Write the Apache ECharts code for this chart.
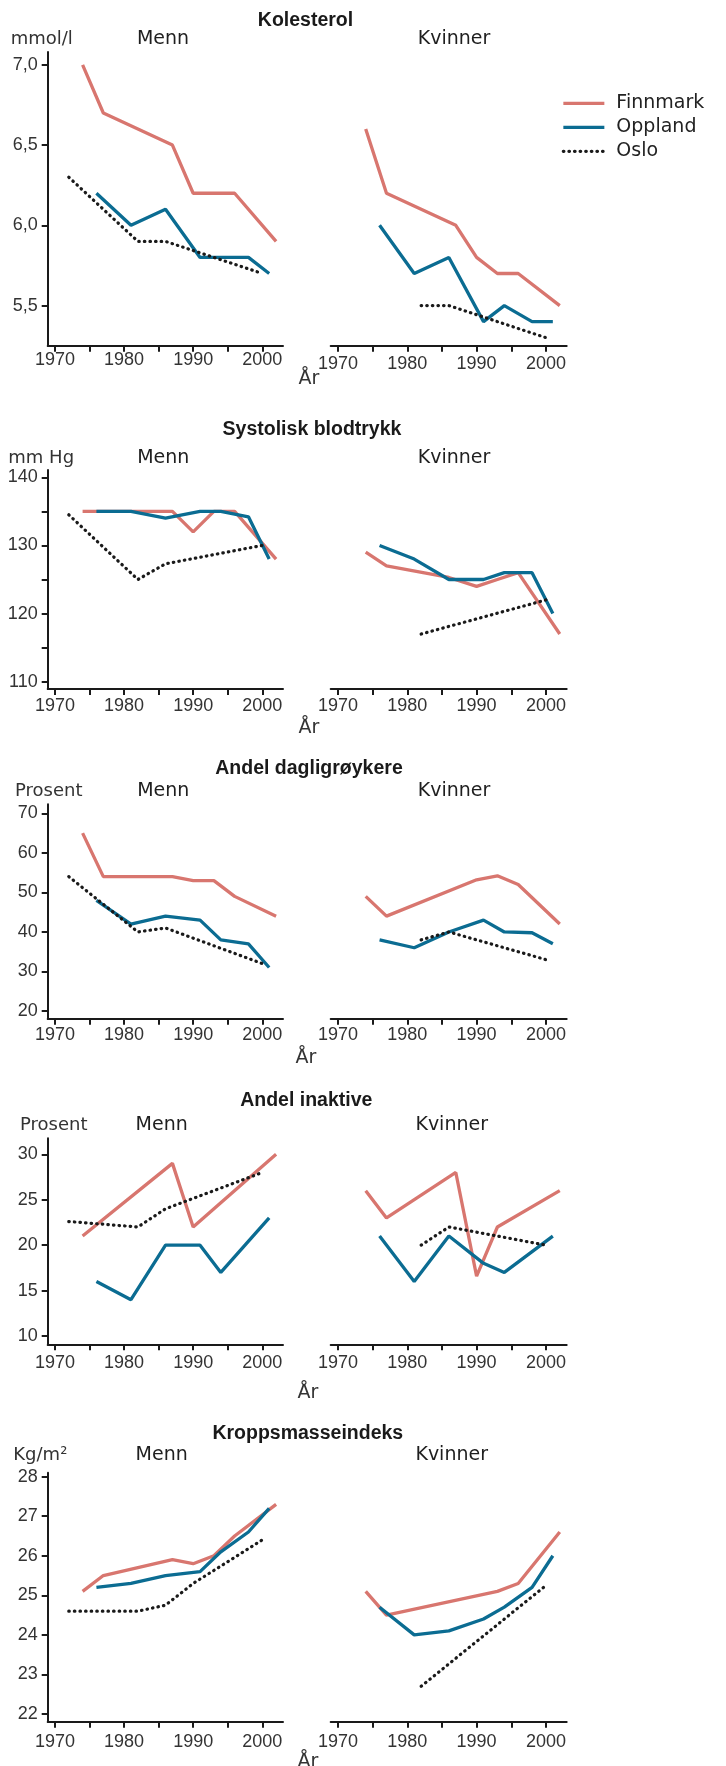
<!DOCTYPE html>
<html><head><meta charset="utf-8">
<script src="https://cdn.jsdelivr.net/npm/echarts@6/dist/echarts.min.js"></script>
<style>html,body{margin:0;padding:0;background:#fff}#c{width:726px;height:1766px}</style>
</head><body><div id="c"></div>
<script>
// ---------- DATA ----------
const seriesNames = ['Finnmark', 'Oppland', 'Oslo'];
const panelTitles = ['Kolesterol', 'Systolisk blodtrykk', 'Andel dagligrøykere', 'Andel inaktive', 'Kroppsmasseindeks'];
const unitLabels = ['mmol/l', 'mm Hg', 'Prosent', 'Prosent', 'Kg/m²'];
const sexLabels = ['Menn', 'Kvinner'];
const axisTitle = 'År';
const xTickYears = [1970, 1975, 1980, 1985, 1990, 1995, 2000];
const xLabelYears = [1970, 1980, 1990, 2000];

// Kolesterol (mmol/l)
const kolMennFinnmark = [[1974, 7.0], [1977, 6.7], [1987, 6.5], [1990, 6.2], [1996, 6.2], [2002, 5.9]];
const kolMennOppland = [[1976, 6.2], [1981, 6.0], [1986, 6.1], [1991, 5.8], [1998, 5.8], [2001, 5.7]];
const kolMennOslo = [[1972, 6.3], [1982, 5.9], [1986, 5.9], [2000, 5.7]];
const kolKvinnerFinnmark = [[1974, 6.6], [1977, 6.2], [1987, 6.0], [1990, 5.8], [1993, 5.7], [1996, 5.7], [2002, 5.5]];
const kolKvinnerOppland = [[1976, 6.0], [1981, 5.7], [1986, 5.8], [1991, 5.4], [1994, 5.5], [1998, 5.4], [2001, 5.4]];
const kolKvinnerOslo = [[1982, 5.5], [1986, 5.5], [2000, 5.3]];
const kolTicks = [5.5, 6.0, 6.5, 7.0];

// Systolisk blodtrykk (mm Hg)
const bpMennFinnmark = [[1974, 135], [1987, 135], [1990, 132], [1993, 135], [1996, 135], [2002, 128]];
const bpMennOppland = [[1976, 135], [1981, 135], [1986, 134], [1991, 135], [1994, 135], [1998, 134.2], [2001, 128]];
const bpMennOslo = [[1972, 134.5], [1982, 125], [1986, 127.3], [2000, 130]];
const bpKvinnerFinnmark = [[1974, 129], [1977, 127], [1986, 125.3], [1990, 124], [1993, 125], [1996, 126], [2002, 117]];
const bpKvinnerOppland = [[1976, 130], [1981, 128], [1986, 125], [1991, 125], [1994, 126], [1998, 126], [2001, 120]];
const bpKvinnerOslo = [[1982, 117], [2000, 122]];
const bpTicks = [110, 115, 120, 125, 130, 135, 140];
const bpLabels = [110, 120, 130, 140];

// Andel dagligrøykere (prosent)
const smokeMennFinnmark = [[1974, 65], [1977, 54], [1987, 54], [1990, 53], [1993, 53], [1996, 49], [2002, 44]];
const smokeMennOppland = [[1976, 48], [1981, 42], [1986, 44], [1991, 43], [1994, 38], [1998, 37], [2001, 31]];
const smokeMennOslo = [[1972, 54], [1982, 40], [1986, 41], [2000, 32]];
const smokeKvinnerFinnmark = [[1974, 49], [1977, 44], [1990, 53.2], [1993, 54.2], [1996, 52], [2002, 42]];
const smokeKvinnerOppland = [[1976, 38], [1981, 36], [1986, 40], [1991, 43], [1994, 40], [1998, 39.8], [2001, 37]];
const smokeKvinnerOslo = [[1982, 38], [1986, 40], [2000, 33]];
const smokeTicks = [20, 30, 40, 50, 60, 70];

// Andel inaktive (prosent)
const inactMennFinnmark = [[1974, 21], [1987, 29], [1990, 22], [2002, 30]];
const inactMennOppland = [[1976, 16], [1981, 14], [1986, 20], [1991, 20], [1994, 17], [2001, 23]];
const inactMennOslo = [[1972, 22.6], [1982, 22], [1986, 24], [2000, 28]];
const inactKvinnerFinnmark = [[1974, 26], [1977, 23], [1987, 28], [1990, 16.6], [1993, 22], [2002, 26]];
const inactKvinnerOppland = [[1976, 21], [1981, 16], [1986, 21], [1991, 18], [1994, 17], [2001, 21]];
const inactKvinnerOslo = [[1982, 20], [1986, 22], [2000, 20]];
const inactTicks = [10, 15, 20, 25, 30];

// Kroppsmasseindeks (kg/m2)
const bmiMennFinnmark = [[1974, 25.1], [1977, 25.5], [1987, 25.9], [1990, 25.8], [1993, 26.0], [1996, 26.5], [2002, 27.3]];
const bmiMennOppland = [[1976, 25.2], [1981, 25.3], [1986, 25.5], [1991, 25.6], [1994, 26.1], [1998, 26.6], [2001, 27.2]];
const bmiMennOslo = [[1972, 24.6], [1982, 24.6], [1986, 24.75], [1990, 25.3], [2000, 26.4]];
const bmiKvinnerFinnmark = [[1974, 25.1], [1977, 24.5], [1993, 25.1], [1996, 25.3], [2002, 26.6]];
const bmiKvinnerOppland = [[1976, 24.7], [1981, 24.0], [1986, 24.1], [1991, 24.4], [1994, 24.7], [1998, 25.2], [2001, 26.0]];
const bmiKvinnerOslo = [[1982, 22.7], [2000, 25.25]];
const bmiTicks = [22, 23, 24, 25, 26, 27, 28];

// ---------- LAYOUT / STYLE ----------
const colors = ['#d8766f', '#0b6c92', '#1a1a1a'];
const xRange = [1968.95, 2003];
const gridX = [{left: 47.7, width: 235.3}, {left: 330.7, width: 236}];
const panels = [
  {men: [kolMennFinnmark, kolMennOppland, kolMennOslo], women: [kolKvinnerFinnmark, kolKvinnerOppland, kolKvinnerOslo],
   yTicks: kolTicks, yLabels: kolTicks, fmt: v => v.toFixed(1).replace('.', ','),
   top: 52, bottom: 345.7, ymin: 5.25, ymax: 7.08, titleX: 305.5, titleY: 20.7, labY: 39, unitX: 10.7, menX: 163, kvX: 454,
   xm: [5, 9], arX: 309, arY: 379},
  {men: [bpMennFinnmark, bpMennOppland, bpMennOslo], women: [bpKvinnerFinnmark, bpKvinnerOppland, bpKvinnerOslo],
   yTicks: bpTicks, yLabels: bpLabels, fmt: v => String(v),
   top: 470, bottom: 689, ymin: 108.93, ymax: 141.07, titleX: 312, titleY: 429.3, labY: 458.5, unitX: 8.3, menX: 163.3, kvX: 454,
   xm: [8.5, 8.5], arX: 309, arY: 728},
  {men: [smokeMennFinnmark, smokeMennOppland, smokeMennOslo], women: [smokeKvinnerFinnmark, smokeKvinnerOppland, smokeKvinnerOslo],
   yTicks: smokeTicks, yLabels: smokeTicks, fmt: v => String(v),
   top: 804.3, bottom: 1018.7, ymin: 18.05, ymax: 72.3, titleX: 309, titleY: 768.3, labY: 791.3, unitX: 15, menX: 163.3, kvX: 454,
   xm: [7.5, 7.5], arX: 306, arY: 1058.3},
  {men: [inactMennFinnmark, inactMennOppland, inactMennOslo], women: [inactKvinnerFinnmark, inactKvinnerOppland, inactKvinnerOslo],
   yTicks: inactTicks, yLabels: inactTicks, fmt: v => String(v),
   top: 1138.3, bottom: 1344.3, ymin: 9.09, ymax: 31.76, titleX: 306.3, titleY: 1100.7, labY: 1125.5, unitX: 20, menX: 161.7, kvX: 451.7,
   xm: [10, 10], arX: 308, arY: 1392.7},
  {men: [bmiMennFinnmark, bmiMennOppland, bmiMennOslo], women: [bmiKvinnerFinnmark, bmiKvinnerOppland, bmiKvinnerOslo],
   yTicks: bmiTicks, yLabels: bmiTicks, fmt: v => String(v),
   top: 1472.7, bottom: 1721.7, ymin: 21.805, ymax: 28.1, titleX: 307.8, titleY: 1434, labY: 1455, unitX: 13.3, menX: 161.7, kvX: 451.7,
   xm: [11, 11], arX: 308, arY: 1762}
];

const grids = [], xAxes = [], yAxes = [], series = [], graphics = [];
const axisColor = '#1a1a1a';
const tickFont = {fontFamily: '"Liberation Sans", Arial, sans-serif', fontSize: 18, color: '#333'};
const wordFont = '"DejaVu Sans", sans-serif';

panels.forEach((p, pi) => {
  [p.men, p.women].forEach((sets, si) => {
    const gi = grids.length;
    grids.push({left: gridX[si].left, width: gridX[si].width, top: p.top, height: p.bottom - p.top, outerBoundsMode: 'none', containLabel: false});
    xAxes.push({
      type: 'value', gridIndex: gi, min: xRange[0], max: xRange[1],
      axisLine: {show: true, lineStyle: {color: axisColor, width: 2}},
      axisTick: {show: true, length: 6, lineStyle: {color: axisColor, width: 2}, customValues: xTickYears},
      axisLabel: {show: true, margin: p.xm[si], customValues: xLabelYears, formatter: v => String(v), ...tickFont},
      splitLine: {show: false}
    });
    yAxes.push({
      type: 'value', gridIndex: gi, min: p.ymin, max: p.ymax, show: si === 0,
      axisLine: {show: si === 0, lineStyle: {color: axisColor, width: 2}},
      axisTick: {show: si === 0, length: 6, lineStyle: {color: axisColor, width: 2}, customValues: p.yTicks},
      axisLabel: {show: si === 0, margin: 10, customValues: p.yLabels, formatter: p.fmt, ...tickFont},
      splitLine: {show: false}
    });
    sets.forEach((d, k) => {
      series.push({
        type: 'line', name: seriesNames[k], xAxisIndex: gi, yAxisIndex: gi, data: d,
        symbol: 'none', showSymbol: false, z: 2 + k,
        lineStyle: k === 2 ? {color: colors[k], width: 3.2, type: [0.5, 5.1], cap: 'round'} : {color: colors[k], width: 3.3},
        itemStyle: {color: colors[k]}, emphasis: {disabled: true}, silent: true
      });
    });
  });
  const txt = (text, x, y, font, align, fill) => graphics.push({
    type: 'text', x: x, y: y, silent: true,
    style: {text: text, font: font, fill: fill, align: align, verticalAlign: 'middle', textAlign: align, textVerticalAlign: 'middle'}
  });
  txt(panelTitles[pi], p.titleX, p.titleY, 'bold 19.5px "Liberation Sans", Arial, sans-serif', 'center', '#1a1a1a');
  txt(unitLabels[pi], p.unitX, p.labY, '18px ' + wordFont, 'left', '#333');
  txt(sexLabels[0], p.menX, p.labY, '19px ' + wordFont, 'center', '#1f1f1f');
  txt(sexLabels[1], p.kvX, p.labY, '19px ' + wordFont, 'center', '#1f1f1f');
  txt(axisTitle, p.arX, p.arY, '19px ' + wordFont, 'center', '#333');
});

const chart = echarts.init(document.getElementById('c'), null, {renderer: 'canvas'});
chart.setOption({
  animation: false,
  backgroundColor: '#fff',
  grid: grids, xAxis: xAxes, yAxis: yAxes, series: series,
  legend: {
    data: seriesNames, orient: 'vertical', left: 556.7, top: 88.3,
    itemWidth: 41, itemHeight: 20, itemGap: 4, selectedMode: false,
    itemStyle: {opacity: 0},
    lineStyle: {width: 3.3},
    textStyle: {fontFamily: wordFont, fontSize: 19, color: '#222', lineHeight: 20, padding: [0, 0, 0, 7]}
  },
  graphic: graphics
});
</script></body></html>
